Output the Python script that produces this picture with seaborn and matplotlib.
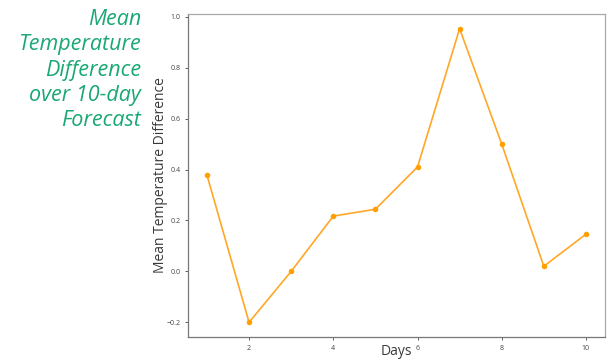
import numpy as np
import pandas as pd
import seaborn as sns
from matplotlib import pyplot as plt

# Values
days = [1, 2, 3, 4, 5, 6, 7, 8, 9, 10]
mean_diff = [0.378, -0.2, 0.0, 0.217, 0.244, 0.41, 0.953, 0.5, 0.02, 0.146]

df = pd.DataFrame({'Days': days, 'Mean Temperature Difference': mean_diff})

sns.set_style('white')
plt.rcParams['font.family'] = ['Open Sans', 'DejaVu Sans']

fig = plt.figure(figsize=(6.11, 3.6), dpi=100)
ax = fig.add_axes([0.3077, 0.064, 0.6823, 0.897])

sns.lineplot(data=df, x='Days', y='Mean Temperature Difference', ax=ax,
             color='#ffa726', linewidth=1.2, marker='o', markersize=4,
             markeredgewidth=0, markerfacecolor='#ffa000')

ax.tick_params(axis='both', labelsize=5, length=2, width=0.6,
               colors='#444444', bottom=True, left=True)
for s in ax.spines.values():
    s.set_color('#aaaaaa')
    s.set_linewidth(0.9)
ax.spines['left'].set_color('#777777')
ax.spines['bottom'].set_color('#777777')

ax.set_xlabel('Days', fontsize=10, color='#3a3a3a', labelpad=-5.5)
ax.set_ylabel('Mean Temperature Difference', fontsize=10, color='#3a3a3a', labelpad=-1)

fig.text(0.231, 0.975, 'Mean\nTemperature\nDifference\nover 10-day\nForecast',
         ha='right', va='top', fontsize=15.5, style='italic',
         color='#19a874', linespacing=1.27)

fig.savefig('out.png', dpi=100)
